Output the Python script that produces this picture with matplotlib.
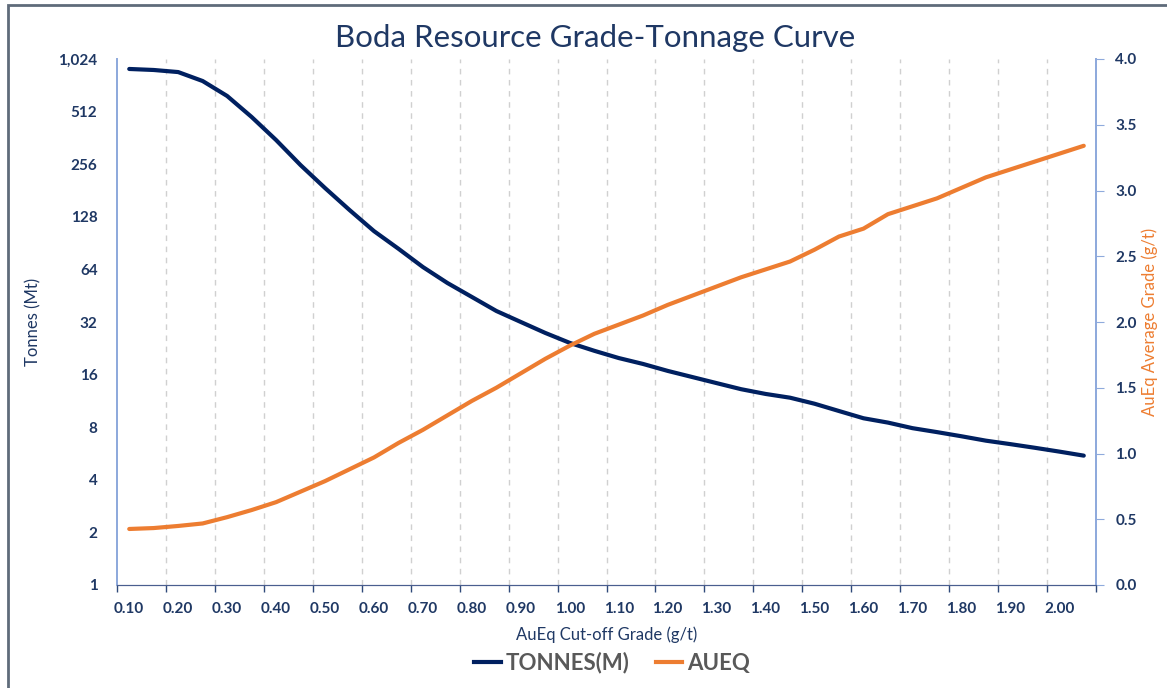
import matplotlib
matplotlib.use("Agg")
import matplotlib.pyplot as plt
from matplotlib.lines import Line2D
from matplotlib.patches import Rectangle
import numpy as np

plt.rcParams['font.family'] = ['Lato', 'DejaVu Sans']

# カットオフ品位 (g/t)
cutoff = ['0.10', '0.15', '0.20', '0.25', '0.30', '0.35', '0.40', '0.45', '0.50', '0.55',
          '0.60', '0.65', '0.70', '0.75', '0.80', '0.85', '0.90', '0.95', '1.00', '1.05',
          '1.10', '1.15', '1.20', '1.25', '1.30', '1.35', '1.40', '1.45', '1.50', '1.55',
          '1.60', '1.65', '1.70', '1.75', '1.80', '1.85', '1.90', '1.95', '2.00', '2.05']
# 鉱量 (Mt)
tonnes = [898, 886, 862, 766, 629, 477, 352, 253, 187, 140,
          106, 84, 66, 53.5, 44.5, 37, 32, 27.7, 24.3, 21.9,
          19.9, 18.4, 16.8, 15.5, 14.3, 13.2, 12.4, 11.8, 10.9, 9.9,
          9.0, 8.5, 7.9, 7.5, 7.1, 6.7, 6.4, 6.1, 5.8, 5.5]
# 平均品位 AuEq (g/t)
aueq = [0.426, 0.433, 0.449, 0.468, 0.516, 0.57, 0.63, 0.71, 0.79, 0.88,
        0.97, 1.08, 1.18, 1.29, 1.40, 1.50, 1.61, 1.72, 1.82, 1.91,
        1.98, 2.05, 2.13, 2.20, 2.27, 2.34, 2.40, 2.46, 2.55, 2.65,
        2.71, 2.82, 2.88, 2.94, 3.02, 3.10, 3.16, 3.22, 3.28, 3.34]
left_ticks = [1, 2, 4, 8, 16, 32, 64, 128, 256, 512, 1024]
left_labels = ['1', '2', '4', '8', '16', '32', '64', '128', '256', '512', '1,024']
right_ticks = [0.0, 0.5, 1.0, 1.5, 2.0, 2.5, 3.0, 3.5, 4.0]

navy = '#002060'
orange = '#ED7D31'
lab_col = '#1F3864'
spine_col = '#8FAADC'

W, H = 1167, 688
fig = plt.figure(figsize=(W / 100, H / 100), dpi=100)
fig.patches.append(Rectangle((8 / W, -0.01), 1.2, 1 - 5 / H + 0.01, transform=fig.transFigure,
                             fill=False, edgecolor='#5F6B7A', linewidth=2))

ax = fig.add_axes([117 / W, 1 - 585 / H, (1096 - 117) / W, (585 - 59) / H])
ax2 = ax.twinx()

x = np.arange(len(cutoff))
ax.plot(x, tonnes, color=navy, linewidth=3, solid_capstyle='round', zorder=3)
ax2.plot(x, aueq, color=orange, linewidth=3, solid_capstyle='round', zorder=3)

ax.set_yscale('log', base=2)
ax.set_ylim(1, 1024)
ax.set_yticks(left_ticks)
ax.set_yticklabels(left_labels)
ax.yaxis.set_minor_locator(matplotlib.ticker.NullLocator())
ax.set_xlim(-0.5, len(cutoff) - 0.5)

ax2.set_ylim(0, 4.0)
ax2.set_yticks(right_ticks)
ax2.set_yticklabels([f'{v:.1f}' for v in right_ticks])

# x軸: 目盛りは区間の境界、ラベルは偶数番目のカテゴリ中心
bounds = np.arange(-0.5, len(cutoff), 2)
ax.set_xticks(bounds)
ax.set_xticklabels([''] * len(bounds))
ax.set_xticks(x[::2], minor=True)
ax.set_xticklabels(cutoff[::2], minor=True)
ax.tick_params(axis='x', which='major', length=5, color='#2F4A7A', width=1)
ax.tick_params(axis='x', which='minor', length=0, pad=12, labelsize=11, labelcolor=lab_col)
for t in ax.get_xticklabels(minor=True):
    t.set_fontweight('bold')

for b in bounds[1:-1]:
    ax.axvline(b, color='#D0D0D0', linestyle=(0, (4, 4)), linewidth=1, zorder=1)

ax.tick_params(axis='y', length=0, pad=14, labelsize=11, labelcolor=lab_col)
for t in ax.get_yticklabels():
    t.set_fontweight('bold')
ax2.tick_params(axis='y', length=6, color=spine_col, pad=8, labelsize=11, labelcolor=lab_col)
for t in ax2.get_yticklabels():
    t.set_fontweight('bold')

for a in (ax, ax2):
    a.spines['top'].set_visible(False)
    a.spines['left'].set_color(spine_col)
    a.spines['right'].set_color(spine_col)
    a.spines['bottom'].set_color('#4A5E8F')
    a.spines['left'].set_linewidth(1.3)
    a.spines['right'].set_linewidth(1.3)

ax.set_ylabel('Tonnes (Mt)', fontsize=12, color=lab_col, labelpad=12)
ax2.set_ylabel('AuEq Average Grade (g/t)', fontsize=12, color=orange, labelpad=3)
ax.set_xlabel('AuEq Cut-off Grade (g/t)', fontsize=12, color=lab_col, labelpad=8)

fig.text(595 / W, 1 - 38 / H, 'Boda Resource Grade-Tonnage Curve', ha='center', va='center',
         fontsize=22.5, color=lab_col)

handles = [Line2D([], [], color=navy, linewidth=3), Line2D([], [], color=orange, linewidth=3)]
leg = fig.legend(handles, ['TONNES(M)', 'AUEQ'], loc='center', bbox_to_anchor=(612 / W, 1 - 663 / H),
                 ncol=2, frameon=False, handlelength=1.2, handletextpad=0.2, columnspacing=1.2,
                 prop={'size': 16, 'weight': 'bold'})
for t in leg.get_texts():
    t.set_color('#595959')

fig.savefig('out.png', dpi=100)
